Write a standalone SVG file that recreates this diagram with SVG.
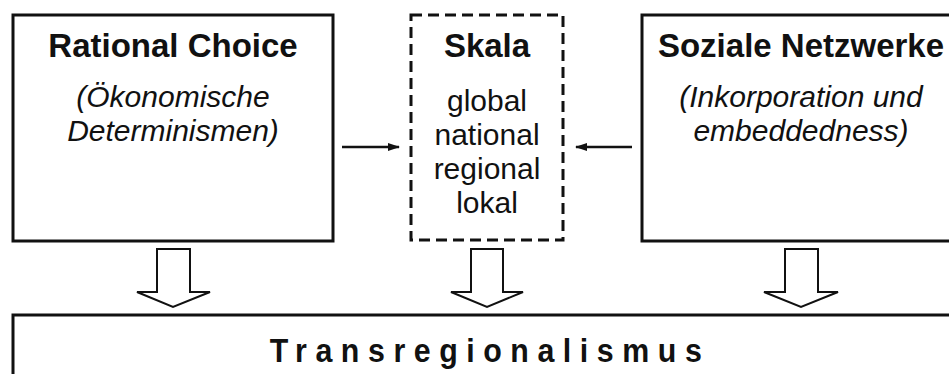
<svg xmlns="http://www.w3.org/2000/svg" width="949" height="374" viewBox="0 0 949 374">
<defs>
<style>
.box{fill:#fff;stroke:#111;stroke-width:3}
.dash{fill:#fff;stroke:#111;stroke-width:3;stroke-dasharray:11 6}
.h{font-family:"Liberation Sans",Arial,sans-serif;font-weight:bold;font-size:33px;fill:#111;text-anchor:middle}
.i{font-family:"Liberation Sans",Arial,sans-serif;font-style:italic;font-size:30px;fill:#111;text-anchor:middle}
.r{font-family:"Liberation Sans",Arial,sans-serif;font-size:30px;fill:#111;text-anchor:middle}
.t{font-family:"Liberation Sans",Arial,sans-serif;font-weight:bold;font-size:33px;fill:#111;letter-spacing:9.3px}
.line{stroke:#111;stroke-width:2.4;fill:none}
.blk{fill:#fff;stroke:#111;stroke-width:2;stroke-linejoin:miter}
</style>
<marker id="ah" viewBox="0 0 12 10" refX="11" refY="5" markerWidth="12" markerHeight="10" orient="auto" markerUnits="userSpaceOnUse">
<path d="M0,1 L12,5 L0,9 z" fill="#111"/>
</marker>
</defs>
<rect width="949" height="374" fill="#fff"/>
<g id="rational">
<rect class="box" x="13" y="15" width="320" height="226"/>
<text class="h" x="173" y="57">Rational Choice</text>
<text class="i" x="173" y="107">(Ökonomische</text>
<text class="i" x="173" y="141">Determinismen)</text>
</g>
<g id="skala">
<rect class="dash" x="411" y="15" width="152" height="225"/>
<text class="h" x="487" y="57">Skala</text>
<text class="r" x="487" y="111">global</text>
<text class="r" x="487" y="145">national</text>
<text class="r" x="487" y="179">regional</text>
<text class="r" x="487" y="213">lokal</text>
</g>
<g id="netzwerke">
<rect class="box" x="642" y="15" width="320" height="226"/>
<text class="h" x="801" y="57">Soziale Netzwerke</text>
<text class="i" x="801" y="107">(Inkorporation und</text>
<text class="i" x="801" y="141">embeddedness)</text>
</g>
<g id="trans">
<rect class="box" x="13" y="315" width="960" height="80"/>
<text class="t" x="490" y="362" text-anchor="middle" transform="translate(490,0) scale(0.92,1) translate(-490,0)">Transregionalismus</text>
</g>
<g id="connectors">
<line class="line" x1="342" y1="147" x2="399" y2="147" marker-end="url(#ah)"/>
<line class="line" x1="632" y1="147" x2="576" y2="147" marker-end="url(#ah)"/>
<path class="blk" d="M157,249 H190 V292 H210 L173,307 L137,292 H157 Z"/>
<path class="blk" d="M471,249 H503 V292 H523 L487,307 L451,292 H471 Z"/>
<path class="blk" d="M785,249 H818 V292 H838 L801,307 L764,292 H785 Z"/>
</g>
</svg>
